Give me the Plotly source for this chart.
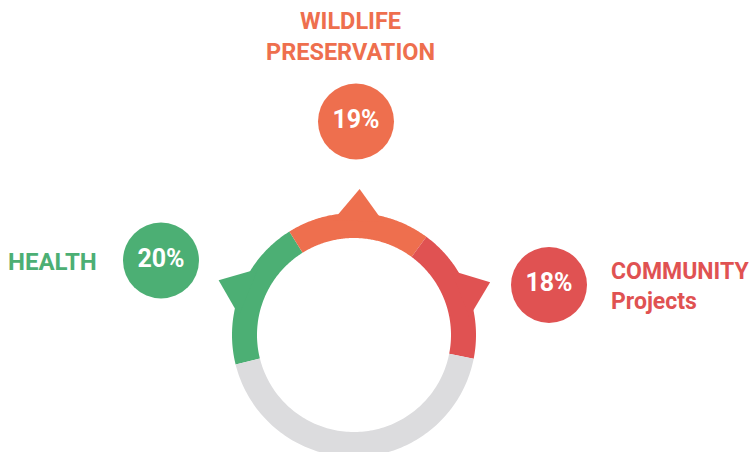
import numpy as np
import plotly.graph_objects as go

# ---- data ----
categories = ["HEALTH", "WILDLIFE PRESERVATION", "COMMUNITY Projects"]
values = [20, 19, 18]          # percent
pct_labels = ["20%", "19%", "18%"]
label_texts = ["HEALTH", "WILDLIFE<br>PRESERVATION", "COMMUNITY<br>Projects"]
colors = ["#4CAF74", "#EE6F4E", "#E05252"]
rest_color = "#DCDCDE"

# ---- geometry / style (pixels) ----
W, H = 752, 452
CX, CY = 354, 335
R_OUT, R_IN = 122, 97
START = 194.0                  # degrees, clockwise from here
TIP_R = 146
FONT = "Roboto"

def pt(r, deg):
    a = np.radians(deg)
    return CX + r * np.cos(a), CY - r * np.sin(a)

def arc_poly(a0, a1):
    ang = np.linspace(a0, a1, 120)
    xo, yo = pt(R_OUT, ang)
    xi, yi = pt(R_IN, ang[::-1])
    return np.concatenate([xo, xi, [xo[0]]]), np.concatenate([yo, yi, [yo[0]]])

fig = go.Figure()

# segments
total_rest = 100 - sum(values)
a = START
mids = []
for v, c in zip(values, colors):
    span = v * 3.6
    xs, ys = arc_poly(a, a - span)
    fig.add_trace(go.Scatter(x=xs, y=ys, fill="toself", fillcolor=c, mode="none",
                             hoverinfo="skip", showlegend=False))
    mids.append(a - span / 2)
    a -= span
xs, ys = arc_poly(a, a - total_rest * 3.6)
fig.add_trace(go.Scatter(x=xs, y=ys, fill="toself", fillcolor=rest_color, mode="none",
                         hoverinfo="skip", showlegend=False))

# pointers
for m, c in zip(mids, colors):
    ar = np.radians(m)
    ux, uy = np.cos(ar), -np.sin(ar)
    px_, py_ = -uy, ux
    bx, by = pt(R_OUT - 8, m)
    tx, ty = pt(TIP_R, m)
    hw = 25
    xs = [bx + hw * px_, tx, bx - hw * px_, bx + hw * px_]
    ys = [by + hw * py_, ty, by - hw * py_, by + hw * py_]
    fig.add_trace(go.Scatter(x=xs, y=ys, fill="toself", fillcolor=c, mode="none",
                             hoverinfo="skip", showlegend=False))

# badges
badge_pos = [(161, 260.5), (356, 121.5), (549, 285)]
fig.add_trace(go.Scatter(
    x=[p[0] for p in badge_pos], y=[p[1] for p in badge_pos],
    mode="markers+text", text=pct_labels, textposition="middle center",
    textfont=dict(family=FONT, size=25, color="white", weight="bold"),
    marker=dict(size=76, color=colors, line=dict(width=0)),
    hoverinfo="skip", showlegend=False))

# labels
ann = [
    dict(x=6, y=262, text=label_texts[0], xanchor="left", yanchor="middle", align="left", size=24),
    dict(x=350, y=36, text=label_texts[1], xanchor="center", yanchor="middle", align="center", size=23.5),
    dict(x=609, y=286, text=label_texts[2], xanchor="left", yanchor="middle", align="left", size=23),
]
for d, c in zip(ann, colors):
    s = d.pop("size")
    fig.add_annotation(xref="x", yref="y", showarrow=False,
                       font=dict(family=FONT, size=s, color=c, weight="bold"), **d)

fig.update_layout(
    width=W, height=H, margin=dict(l=0, r=0, t=0, b=0),
    paper_bgcolor="white", plot_bgcolor="white",
    xaxis=dict(range=[0, W], visible=False, fixedrange=True),
    yaxis=dict(range=[H, 0], visible=False, fixedrange=True),
)
fig.write_html("out.html")
